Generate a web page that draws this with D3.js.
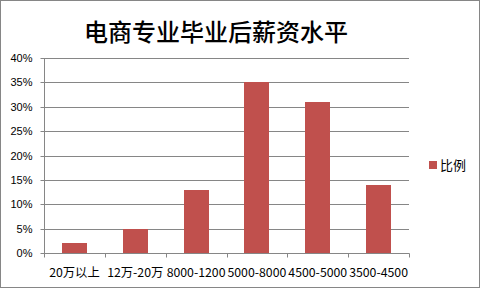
<!DOCTYPE html>
<html><head><meta charset="utf-8">
<script src="https://cdn.jsdelivr.net/npm/d3@7"></script>
<style>body{margin:0;background:#fff}svg{display:block}</style>
</head><body>
<script>
const title = "电商专业毕业后薪资水平";
const categories = ["20万以上","12万-20万","8000-1200","5000-8000","4500-5000","3500-4500"];
const values = [0.02,0.05,0.13,0.35,0.31,0.14];
const seriesName = "比例";
const yTicks = [0,0.05,0.10,0.15,0.20,0.25,0.30,0.35,0.40];

(function(){
const W=481,H=289;
const svg=d3.select("body").append("svg").attr("width",W).attr("height",H);
svg.append("rect").attr("x",0.5).attr("y",0.5).attr("width",479).attr("height",287)
  .attr("fill","#fff").attr("stroke","#868686");

const pL=44,pR=409,pT=58,pB=253;
const x=d3.scaleBand().domain(categories).range([pL,pR]).paddingInner(0.59).paddingOuter(0.295);
const y=d3.scaleLinear().domain([0,0.4]).range([pB,pT]);

svg.append("text").attr("x",216).attr("y",41).attr("text-anchor","middle")
  .attr("font-family","'Noto Sans CJK SC'").attr("font-weight",500).attr("font-size",24)
  .attr("fill","#000").text(title);

// gridlines
svg.append("g").selectAll("line").data(yTicks.filter(d=>d>0)).join("line")
  .attr("x1",pL).attr("x2",pR).attr("y1",d=>Math.round(y(d))+0.5).attr("y2",d=>Math.round(y(d))+0.5)
  .attr("stroke","#868686");

// y axis
const yAxis=d3.axisLeft(y).tickValues(yTicks).tickFormat(d3.format(".0%")).tickSize(4).tickPadding(8);
const gy=svg.append("g").attr("transform",`translate(${pL+0.5},0.5)`).call(yAxis);
gy.select(".domain").attr("stroke","#868686").attr("d",`M0,${pT}V${pB}`);
gy.selectAll(".tick line").attr("stroke","#868686");
gy.selectAll(".tick").attr("transform",d=>`translate(0,${Math.round(y(d))})`);
gy.selectAll("text").attr("font-family","'Liberation Sans'").attr("font-size",11).attr("fill","#000");

// bars
svg.append("g").selectAll("rect").data(values).join("rect")
  .attr("x",(d,i)=>Math.round(x(categories[i])))
  .attr("width",Math.round(x.bandwidth()))
  .attr("y",d=>Math.round(y(d))).attr("height",d=>pB-Math.round(y(d)))
  .attr("fill","#C0504D");

// x axis
const gx=svg.append("g").attr("transform",`translate(0,${pB+0.5})`);
gx.append("line").attr("x1",pL).attr("x2",pR+0.5).attr("stroke","#868686");
const step=(pR-pL)/categories.length;
gx.selectAll("line.t").data(d3.range(categories.length+1)).join("line").attr("class","t")
  .attr("x1",i=>Math.round(pL+i*step)+0.5).attr("x2",i=>Math.round(pL+i*step)+0.5)
  .attr("y1",0).attr("y2",4).attr("stroke","#868686");
gx.selectAll("text").data(categories).join("text")
  .attr("x",d=>x(d)+x.bandwidth()/2).attr("y",23).attr("text-anchor","middle")
  .attr("font-family","'Noto Sans CJK SC'").attr("font-size",12.3).attr("fill","#000").text(d=>d);

// legend
const lg=svg.append("g");
lg.append("rect").attr("x",429).attr("y",161).attr("width",8).attr("height",8).attr("fill","#C0504D");
lg.append("text").attr("x",440).attr("y",170).attr("font-family","'Noto Sans CJK SC'")
  .attr("font-size",13).attr("fill","#000").text(seriesName);
})();
</script>
</body></html>
